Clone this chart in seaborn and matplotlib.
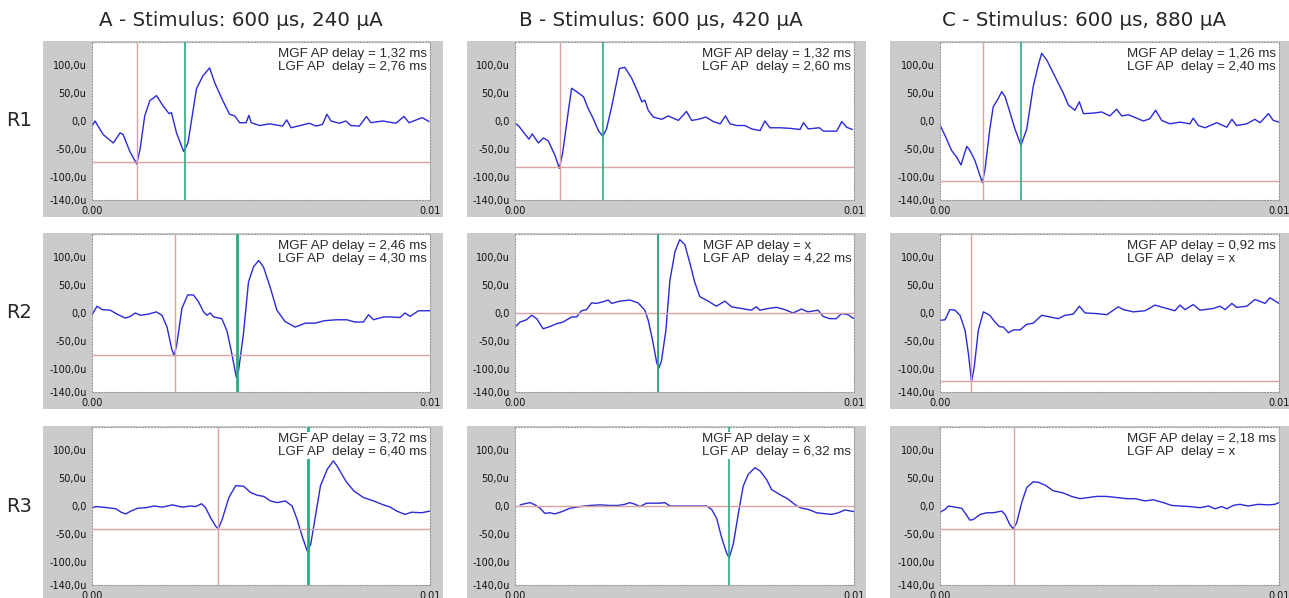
import numpy as np
import matplotlib
matplotlib.use("Agg")
import matplotlib.pyplot as plt
from matplotlib.patches import Rectangle
import seaborn as sns

sns.set_style("white")
plt.rcParams["font.family"] = ["DejaVu Sans"]

W, H = 1289, 598

# ------------------------------------------------------------------
# datos: tiempo en ms, amplitud en uV
# ------------------------------------------------------------------
col_titles = ["A - Stimulus: 600 \u00b5s, 240 \u00b5A",
              "B - Stimulus: 600 \u00b5s, 420 \u00b5A",
              "C - Stimulus: 600 \u00b5s, 880 \u00b5A"]
row_labels = ["R1", "R2", "R3"]

a_r1_t = [0, 0.09, 0.33, 0.63, 0.83, 0.92, 1.12, 1.32, 1.42, 1.56, 1.71, 1.91, 2.10, 2.28, 2.35,
          2.50, 2.71, 2.84, 3.09, 3.28, 3.48, 3.63, 3.87, 4.07, 4.22, 4.37, 4.56, 4.64, 4.71,
          4.96, 5.25, 5.64, 5.76, 5.89, 6.43, 6.63, 6.82, 6.95, 7.07, 7.32, 7.51, 7.66, 7.91,
          8.12, 8.25, 8.60, 8.99, 9.23, 9.38, 9.77, 9.97]
a_r1_v = [-9, 0, -24, -39, -21, -24, -54, -76, -51, 9, 36, 45, 27, 13, 15,
          -21, -54, -39, 57, 80, 94, 68, 36, 12, 9, -3, -3, 10, -3,
          -8, -5, -9, 2, -12, -4, -9, -6, 12, 0, -4, 0, -8, -9,
          8, -3, 0, -4, 8, -3, 6, -1]

b_r1_t = [0, 0.10, 0.29, 0.41, 0.51, 0.69, 0.84, 0.98, 1.18, 1.31, 1.41, 1.57, 1.67, 1.82, 2.02,
          2.16, 2.31, 2.46, 2.59, 2.70, 2.85, 3.08, 3.24, 3.44, 3.64, 3.74, 3.83, 3.93, 4.08,
          4.33, 4.52, 4.82, 5.06, 5.21, 5.41, 5.63, 5.85, 6.05, 6.21, 6.34, 6.54, 6.78, 6.98,
          7.23, 7.37, 7.52, 7.82, 8.11, 8.41, 8.51, 8.65, 8.98, 9.10, 9.49, 9.64, 9.78, 9.95]
b_r1_v = [-4, -8, -23, -32, -23, -39, -30, -35, -61, -84, -55, 16, 58, 52, 43,
          22, 4, -17, -27, -14, 25, 93, 95, 76, 49, 34, 37, 19, 7,
          3, 9, 1, 17, 1, 3, 7, -1, -5, 9, -5, -8, -8, -14,
          -17, 0, -12, -12, -13, -15, -3, -14, -12, -18, -18, -1, -11, -15]

c_r1_t = [0, 0.15, 0.34, 0.49, 0.62, 0.69, 0.79, 0.88, 1.03, 1.18, 1.25, 1.33, 1.47, 1.57, 1.72,
          1.82, 1.92, 2.06, 2.21, 2.39, 2.56, 2.75, 2.90, 3.00, 3.15, 3.39, 3.64, 3.79, 3.98,
          4.11, 4.23, 4.52, 4.77, 5.01, 5.21, 5.36, 5.56, 5.80, 6.00, 6.19, 6.36, 6.54, 6.78,
          7.08, 7.37, 7.47, 7.62, 7.82, 8.16, 8.46, 8.61, 8.75, 9.05, 9.29, 9.44, 9.69, 9.83, 10.0]
c_r1_v = [-7, -26, -52, -64, -78, -64, -45, -52, -70, -97, -109, -85, -14, 25, 40,
          52, 43, 16, -14, -43, -14, 61, 99, 120, 108, 79, 49, 28, 19,
          34, 13, 14, 16, 9, 21, 9, 11, 5, 0, 4, 19, 1, -5,
          -2, -5, 5, -8, -12, -3, -11, 3, -8, -5, 3, -3, 13, 1, -2]

a_r2_t = [0, 0.15, 0.30, 0.54, 0.74, 0.99, 1.13, 1.28, 1.43, 1.67, 1.90, 2.07, 2.22, 2.36, 2.43,
          2.51, 2.66, 2.83, 3.00, 3.15, 3.30, 3.40, 3.50, 3.60, 3.84, 3.99, 4.12, 4.27, 4.33,
          4.48, 4.63, 4.78, 4.93, 5.07, 5.27, 5.47, 5.71, 6.01, 6.31, 6.60, 6.85, 7.00, 7.24,
          7.54, 7.78, 8.03, 8.18, 8.33, 8.62, 8.82, 9.11, 9.26, 9.41, 9.66, 10.0]
a_r2_v = [-3, 12, 6, 5, -2, -9, -6, 0, -4, -2, 2, -4, -25, -64, -76,
          -55, 8, 32, 32, 20, 2, -4, 0, -7, -10, -31, -67, -114, -105,
          -37, 55, 82, 93, 82, 46, 5, -15, -25, -18, -18, -14, -13, -12,
          -12, -16, -16, -3, -12, -7, -7, -8, 0, -6, 4, 4]

b_r2_t = [0, 0.15, 0.34, 0.49, 0.64, 0.83, 1.03, 1.23, 1.42, 1.67, 1.82, 1.96, 2.11, 2.26, 2.41,
          2.60, 2.75, 2.85, 3.09, 3.39, 3.63, 3.83, 3.93, 4.06, 4.18, 4.24, 4.32, 4.45, 4.57,
          4.72, 4.86, 5.01, 5.16, 5.30, 5.45, 5.70, 5.94, 6.19, 6.39, 6.68, 6.97, 7.12, 7.22,
          7.47, 7.71, 7.96, 8.20, 8.45, 8.64, 8.94, 9.09, 9.28, 9.48, 9.63, 9.82, 10.0]
b_r2_v = [-25, -16, -12, -4, -10, -28, -24, -19, -16, -7, -7, 4, 6, 18, 17,
          20, 23, 17, 21, 23, 18, 5, -13, -49, -88, -98, -85, -31, 58,
          109, 130, 121, 88, 55, 29, 21, 12, 21, 11, 8, 5, 11, 5,
          8, 10, 6, 0, 7, 2, 5, -6, -10, -10, -1, -3, -10]

c_r2_t = [0, 0.15, 0.29, 0.44, 0.59, 0.74, 0.84, 0.93, 1.01, 1.13, 1.28, 1.47, 1.62, 1.75, 1.87,
          2.02, 2.16, 2.36, 2.56, 2.75, 3.00, 3.24, 3.49, 3.69, 3.93, 4.11, 4.28, 4.62, 4.92,
          5.26, 5.41, 5.70, 6.05, 6.34, 6.69, 6.93, 7.08, 7.23, 7.47, 7.67, 8.06, 8.26, 8.41,
          8.61, 8.75, 9.05, 9.29, 9.59, 9.73, 10.0]
c_r2_v = [-13, -12, 6, 5, -4, -31, -73, -122, -96, -31, 2, -4, -16, -24, -25,
          -35, -30, -30, -20, -18, -4, -7, -10, -4, -2, 12, 0, -1, -3,
          11, 6, 2, 4, 14, 8, 4, 14, 6, 15, 5, 8, 12, 6,
          17, 10, 12, 24, 17, 27, 17]

a_r3_t = [0, 0.12, 0.46, 0.71, 0.86, 1.00, 1.15, 1.35, 1.59, 1.84, 2.08, 2.38, 2.67, 2.92, 3.07,
          3.24, 3.36, 3.51, 3.66, 3.74, 3.85, 4.05, 4.25, 4.49, 4.69, 4.89, 5.08, 5.28, 5.48,
          5.72, 5.92, 6.07, 6.22, 6.37, 6.47, 6.61, 6.76, 6.96, 7.14, 7.25, 7.50, 7.74, 8.03,
          8.33, 8.58, 8.82, 9.02, 9.26, 9.46, 9.75, 10.0]
a_r3_v = [-3, -1, -3, -5, -11, -14, -9, -4, -3, 0, -2, 2, -2, 0, -1,
          4, -3, -21, -36, -40, -24, 15, 36, 35, 24, 19, 17, 9, 6,
          9, 0, -24, -54, -80, -68, -18, 36, 65, 80, 71, 45, 27, 15,
          9, 3, -2, -9, -15, -11, -12, -9]

b_r3_t = [0.15, 0.29, 0.44, 0.59, 0.74, 0.88, 1.03, 1.18, 1.38, 1.62, 1.92, 2.21, 2.51, 2.80, 3.05,
          3.24, 3.39, 3.54, 3.69, 3.88, 4.08, 4.28, 4.42, 4.57, 4.87, 5.26, 5.65, 5.80, 5.95,
          6.09, 6.24, 6.32, 6.44, 6.59, 6.73, 6.88, 7.08, 7.23, 7.42, 7.57, 7.82, 8.06, 8.31,
          8.46, 8.65, 8.90, 9.19, 9.34, 9.54, 9.73, 10.0]
b_r3_v = [2, 4, 6, 2, -4, -13, -12, -14, -10, -4, -1, 1, 2, 1, 1,
          3, 6, 3, -1, 5, 5, 5, 6, 0, 0, 0, 0, -6, -22,
          -55, -83, -92, -67, -13, 35, 56, 68, 62, 47, 29, 20, 12, 0,
          -4, -6, -12, -14, -15, -12, -7, -10]

c_r3_t = [0, 0.15, 0.25, 0.44, 0.64, 0.77, 0.88, 0.98, 1.18, 1.38, 1.57, 1.82, 1.92, 2.06, 2.16,
          2.26, 2.41, 2.56, 2.75, 2.90, 3.10, 3.34, 3.64, 3.88, 4.13, 4.38, 4.62, 4.92, 5.21,
          5.51, 5.75, 6.05, 6.29, 6.59, 6.83, 7.08, 7.37, 7.67, 7.92, 8.11, 8.31, 8.46, 8.65,
          8.85, 9.09, 9.39, 9.68, 9.88, 10.0]
c_r3_v = [-11, -6, 0, -2, -4, -15, -25, -24, -15, -12, -12, -9, -15, -33, -40,
          -30, 6, 33, 43, 42, 37, 27, 23, 17, 13, 15, 17, 17, 15,
          13, 13, 9, 11, 6, 1, 0, -1, -3, 0, -5, -1, -5, 1,
          3, 0, 3, 2, 3, 6]

# cursores: retardo MGF (ms), retardo LGF (ms), nivel horizontal (uV); None = "x"
mgf_delay = [[1.32, 1.32, 1.26], [2.46, None, 0.92], [3.72, None, 2.18]]
lgf_delay = [[2.76, 2.60, 2.40], [4.30, 4.22, None], [6.40, 6.32, None]]
h_level = [[-72, -82, -107], [-74, 0, -121], [-40, 0, -40]]

y_ticks = [140, 100, 50, 0, -50, -100, -140]
y_ticklabels = ["", "100,0u", "50,0u", "0,0", "-50,0u", "-100,0u", "-140,0u"]
x_ticks = [0.0, 0.01]
x_ticklabels = ["0.00", "0.01"]

traces = [[(a_r1_t, a_r1_v), (b_r1_t, b_r1_v), (c_r1_t, c_r1_v)],
          [(a_r2_t, a_r2_v), (b_r2_t, b_r2_v), (c_r2_t, c_r2_v)],
          [(a_r3_t, a_r3_v), (b_r3_t, b_r3_v), (c_r3_t, c_r3_v)]]

# ------------------------------------------------------------------
# geometria (pixeles)
# ------------------------------------------------------------------
plot_x = [(92, 430), (515, 854), (940, 1279)]
frame_x = [(43, 443), (467, 866), (890, 1289)]
plot_y = [(42, 200), (234, 392), (427, 585)]
title_x = [241, 661, 1084]
green_lw = [[1.2, 1.2, 1.2], [2.0, 1.4, 1.2], [2.0, 1.2, 1.2]]

GRAY = "#cbcbcb"
BLUE = "#2a2ad8"
PINK = "#d9a3a3"
GREEN = "#2bab80"


def fbox(x0, y0, x1, y1):
    return [x0 / W, 1 - y1 / H, (x1 - x0) / W, (y1 - y0) / H]


def fmt(d):
    return "x" if d is None else f"{d:.2f}".replace(".", ",") + " ms"


fig = plt.figure(figsize=(W / 100, H / 100), dpi=100)
fig.patch.set_facecolor("white")

for r in range(3):
    y0, y1 = plot_y[r]
    for c in range(3):
        x0, x1 = plot_x[c]
        fx0, fx1 = frame_x[c]
        b = fbox(fx0, y0 - 1, fx1, y1 + 17)
        fig.add_artist(Rectangle((b[0], b[1]), b[2], b[3], transform=fig.transFigure,
                                 facecolor=GRAY, edgecolor="none", zorder=-1))

        ax = fig.add_axes(fbox(x0, y0, x1, y1))
        ax.set_facecolor("white")
        t, v = traces[r][c]
        sns.lineplot(x=np.array(t) / 1000.0, y=v, ax=ax, color=BLUE, lw=1.0,
                     sort=False, estimator=None, legend=False, zorder=2)

        ax.axhline(h_level[r][c], color=PINK, lw=1.0, zorder=3)
        if mgf_delay[r][c] is not None:
            ax.axvline(mgf_delay[r][c] / 1000.0, color=PINK, lw=1.0, zorder=3)
        if lgf_delay[r][c] is not None:
            ax.axvline(lgf_delay[r][c] / 1000.0, color=GREEN, lw=green_lw[r][c], zorder=3)

        ax.text(0.992, 0.965,
                f"MGF AP delay = {fmt(mgf_delay[r][c])}\nLGF AP  delay = {fmt(lgf_delay[r][c])}",
                transform=ax.transAxes, ha="right", va="top", multialignment="left",
                fontsize=9.6, family=["Liberation Sans", "DejaVu Sans"], color="#2a2a2a",
                linespacing=1.2, zorder=5,
                bbox=dict(facecolor="white", edgecolor="none", pad=0.6))

        ax.set_xlim(0, 0.01)
        ax.set_ylim(-140, 140)
        ax.set_yticks(y_ticks)
        ax.set_yticklabels(y_ticklabels)
        ax.set_xticks(x_ticks)
        ax.set_xticklabels(x_ticklabels)
        ax.set_xlabel("")
        ax.set_ylabel("")
        ax.tick_params(axis="both", length=3, width=0.8, labelsize=7, pad=1,
                       color="#333333", labelcolor="#111111")
        for s in ax.spines.values():
            s.set_color("#9a9a9a")
            s.set_linestyle(":")
            s.set_linewidth(0.8)

for c in range(3):
    fig.text(title_x[c] / W, 1 - 20 / H, col_titles[c], ha="center", va="center",
             fontsize=14.3)
for r in range(3):
    yc = (plot_y[r][0] + plot_y[r][1]) / 2
    fig.text(19 / W, 1 - yc / H, row_labels[r], ha="center", va="center", fontsize=14)

fig.savefig("out.png", dpi=100)
